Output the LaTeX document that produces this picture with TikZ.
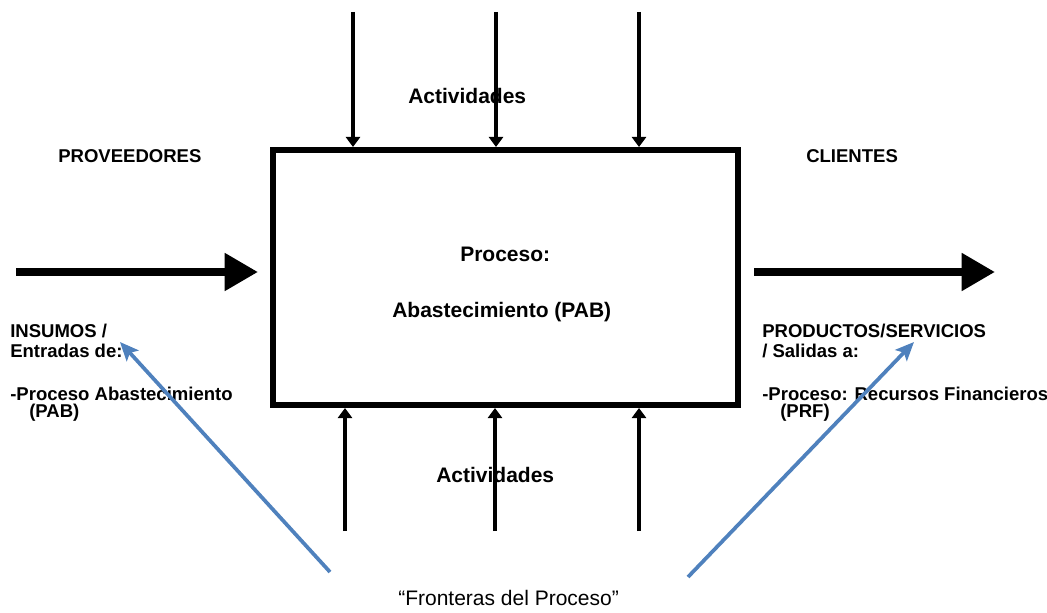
\documentclass[tikz,border=0pt]{standalone}
\usepackage{fontspec}
\setmainfont{Liberation Sans}
\usetikzlibrary{arrows.meta}
\definecolor{arrowblue}{HTML}{4F81BD}
\begin{document}
\begin{tikzpicture}[x=0.75pt,y=-0.75pt,
  lbl/.style={font=\fontsize{13.9pt}{16pt}\selectfont\bfseries, inner sep=0pt, anchor=base west},
  biglbl/.style={font=\fontsize{15.75pt}{18pt}\selectfont\bfseries, inner sep=0pt, anchor=base west},
  note/.style={font=\fontsize{15.75pt}{18pt}\selectfont, inner sep=0pt, anchor=base west},
  actarrow/.style={line width=3pt, -{Triangle[length=7.5pt,width=10.5pt]}},
  bigarrow/.style={line width=6pt, -{Triangle[length=25pt,width=27pt]}},
  bluearrow/.style={arrowblue, line width=2.8pt, -{Stealth[length=14pt,width=12pt,inset=3pt]}}]
\useasboundingbox (0,0) rectangle (1047,613);
% process box
\node[draw, line width=4.5pt, minimum width=465pt*0.75, minimum height=255pt*0.75, inner sep=0pt] (box) at (505,277.5) {};
% top activity arrows
\coordinate (t1) at (353,12);
\coordinate (t2) at (496,12);
\coordinate (t3) at (639,12);
\draw[actarrow] (t1) -- (t1 |- box.north);
\draw[actarrow] (t2) -- (t2 |- box.north);
\draw[actarrow] (t3) -- (t3 |- box.north);
% bottom activity arrows
\coordinate (b1) at (345,531);
\coordinate (b2) at (495,531);
\coordinate (b3) at (639,531);
\draw[actarrow] (b1) -- (b1 |- box.south);
\draw[actarrow] (b2) -- (b2 |- box.south);
\draw[actarrow] (b3) -- (b3 |- box.south);
% input / output arrows
\coordinate (inL) at (16,272);
\coordinate (inR) at (258,272);
\coordinate (outL) at (754,272);
\coordinate (outR) at (995,272);
\draw[bigarrow] (inL) -- (inR);
\draw[bigarrow] (outL) -- (outR);
% texts
\node[lbl] (prov) at (58,162.5) {PROVEEDORES};
\node[lbl] (cli) at (806,162.5) {CLIENTES};
\node[biglbl] (acttop) at (408,104) {Actividades};
\node[biglbl] (actbot) at (436,482) {Actividades};
\node[biglbl] (proc) at (460,261.5) {Proceso:};
\node[biglbl] (abas) at (392,317.5) {Abastecimiento (PAB)};
\node[lbl] (ins1) at (10,338) {INSUMOS /};
\node[lbl] (ins2) at (10,357) {Entradas de:};
\node[lbl] (ins3) at (10,400) {-Proceso Abastecimiento};
\node[lbl] (ins4) at (29,417) {(PAB)};
\node[lbl] (pro1) at (762,338) {PRODUCTOS/SERVICIOS};
\node[lbl] (pro2) at (762,357) {/ Salidas a:};
\node[lbl] (pro3) at (762,400) {-Proceso: Recursos Financieros};
\node[lbl] (pro4) at (780,417) {(PRF)};
\node[note] (front) at (398,605) {“Fronteras del Proceso”};
% boundary arrows
\coordinate (fl) at (330,572);
\coordinate (fr) at (688,577);
\coordinate (tipL) at (120,342);
\coordinate (tipR) at (914,342);
\draw[bluearrow] (fl) -- (tipL);
\draw[bluearrow] (fr) -- (tipR);
\end{tikzpicture}
\end{document}
